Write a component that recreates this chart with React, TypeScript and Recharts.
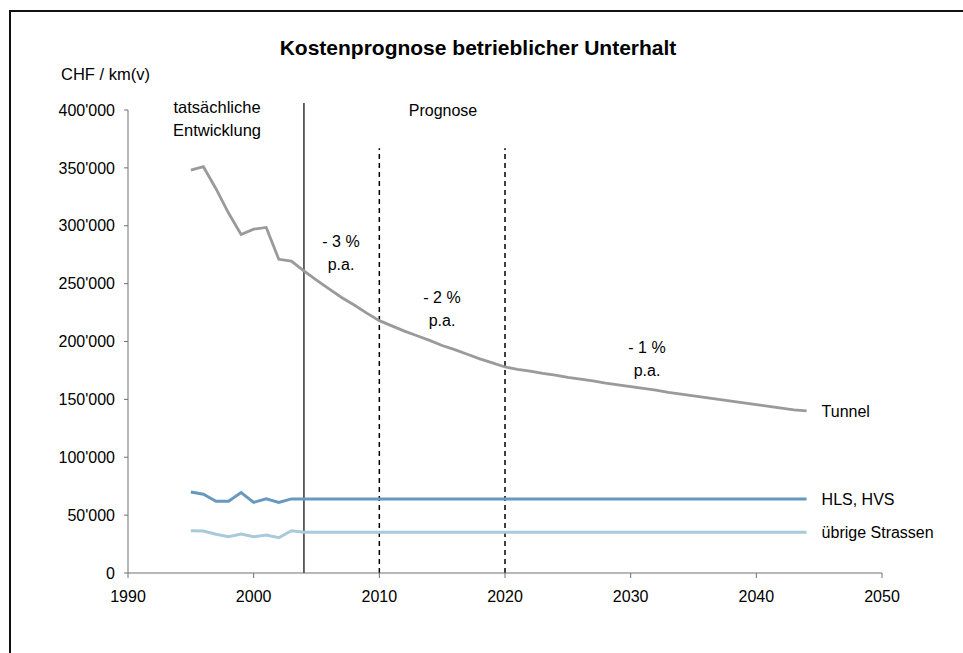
import React from 'react';
import { LineChart, Line, XAxis, YAxis, ReferenceLine, LabelList } from 'recharts';

const years = [
  1995, 1996, 1997, 1998, 1999, 2000, 2001, 2002, 2003, 2004,
  2005, 2006, 2007, 2008, 2009, 2010, 2011, 2012, 2013, 2014,
  2015, 2016, 2017, 2018, 2019, 2020, 2021, 2022, 2023, 2024,
  2025, 2026, 2027, 2028, 2029, 2030, 2031, 2032, 2033, 2034,
  2035, 2036, 2037, 2038, 2039, 2040, 2041, 2042, 2043, 2044,
];

const tunnel = [
  348000, 351000, 332000, 311000, 292500, 297000, 298500, 271000, 269500, 261000,
  253000, 245500, 238000, 231500, 224500, 218000, 213500, 209000, 205000, 201000,
  196500, 193000, 189000, 185000, 181500, 178000, 176000, 174500, 172500, 171000,
  169000, 167500, 166000, 164000, 162500, 161000, 159500, 158000, 156000, 154500,
  153000, 151500, 150000, 148500, 147000, 145500, 144000, 142500, 141000, 140000,
];

const hlsHvs = [
  70000, 68000, 62000, 62000, 69500, 61000, 64000, 61000, 64000, 64000,
  64000, 64000, 64000, 64000, 64000, 64000, 64000, 64000, 64000, 64000,
  64000, 64000, 64000, 64000, 64000, 64000, 64000, 64000, 64000, 64000,
  64000, 64000, 64000, 64000, 64000, 64000, 64000, 64000, 64000, 64000,
  64000, 64000, 64000, 64000, 64000, 64000, 64000, 64000, 64000, 64000,
];

const uebrige = [
  36500, 36300, 33500, 31300, 33700, 31300, 32800, 30500, 36500, 35300,
  35300, 35300, 35300, 35300, 35300, 35300, 35300, 35300, 35300, 35300,
  35300, 35300, 35300, 35300, 35300, 35300, 35300, 35300, 35300, 35300,
  35300, 35300, 35300, 35300, 35300, 35300, 35300, 35300, 35300, 35300,
  35300, 35300, 35300, 35300, 35300, 35300, 35300, 35300, 35300, 35300,
];

const xTicks = [1990, 2000, 2010, 2020, 2030, 2040, 2050];
const yTicks = [0, 50000, 100000, 150000, 200000, 250000, 300000, 350000, 400000];

// Phase boundaries
const actualEnd = 2004;
const phaseBreaks = [2010, 2020];

const data = years.map((year, i) => ({
  year,
  tunnel: tunnel[i],
  hls: hlsHvs[i],
  uebrige: uebrige[i],
}));

const FONT = '"Liberation Sans", Arial, sans-serif';

const fmt = (v: number) => {
  if (v === 0) return '0';
  const k = Math.floor(v / 1000);
  return `${k}'000`;
};

const endLabel = (text: string) => (props: any) => {
  const { x, y, index } = props;
  if (index !== data.length - 1) return null;
  return (
    <text x={x + 15} y={y} dy="0.35em" fontSize={16} fill="#000" fontFamily={FONT}>
      {text}
    </text>
  );
};

const Note: React.FC<{ x: number; y: number; children: React.ReactNode }> = ({ x, y, children }) => (
  <div
    style={{
      position: 'absolute',
      left: x,
      top: y,
      transform: 'translate(-50%, -50%)',
      fontSize: 16,
      lineHeight: '23px',
      textAlign: 'center',
      whiteSpace: 'nowrap',
    }}
  >
    {children}
  </div>
);

export default function App() {
  return (
    <div
      style={{
        position: 'absolute',
        left: 0,
        top: 0,
        width: 963,
        height: 653,
        overflow: 'hidden',
        fontFamily: FONT,
        background: '#fff',
      }}
    >
      <div
        style={{
          position: 'absolute',
          left: 9,
          top: 10,
          width: 960,
          height: 650,
          borderLeft: '2.5px solid #111',
          borderTop: '2.5px solid #111',
        }}
      />
      <div
        style={{
          position: 'absolute',
          left: 478,
          top: 48,
          transform: 'translate(-50%, -50%)',
          fontSize: 21,
          fontWeight: 'bold',
          whiteSpace: 'nowrap',
        }}
      >
        Kostenprognose betrieblicher Unterhalt
      </div>
      <div style={{ position: 'absolute', left: 61, top: 65, fontSize: 16.5 }}>CHF / km(v)</div>

      <LineChart
        width={963}
        height={653}
        data={data}
        margin={{ top: 110, right: 81, bottom: 50, left: 68 }}
        style={{ position: 'absolute', left: 0, top: 0 }}
      >
        <XAxis
          dataKey="year"
          type="number"
          domain={[1990, 2050]}
          ticks={xTicks}
          height={30}
          tickSize={5}
          tickMargin={13}
          stroke="#707070"
          tick={{ fill: '#000', fontSize: 16, fontFamily: FONT }}
          interval={0}
        />
        <YAxis
          domain={[0, 400000]}
          ticks={yTicks}
          width={60}
          tickSize={4}
          tickMargin={9}
          stroke="#707070"
          tickFormatter={fmt}
          tick={{ fill: '#000', fontSize: 16, fontFamily: FONT }}
          interval={0}
        />
        <ReferenceLine
          segment={[{ x: actualEnd, y: 0 }, { x: actualEnd, y: 406000 }]}
          stroke="#333"
          strokeWidth={1.5}
          ifOverflow="visible"
        />
        {phaseBreaks.map((b) => (
          <ReferenceLine
            key={b}
            segment={[{ x: b, y: 0 }, { x: b, y: 367000 }]}
            stroke="#000"
            strokeWidth={1.5}
            strokeDasharray="5 4"
            ifOverflow="visible"
          />
        ))}
        <Line
          dataKey="uebrige"
          stroke="#a8cbdb"
          strokeWidth={3}
          dot={false}
          isAnimationActive={false}
        >
          <LabelList dataKey="uebrige" content={endLabel('übrige Strassen')} />
        </Line>
        <Line
          dataKey="hls"
          stroke="#6898bd"
          strokeWidth={3}
          dot={false}
          isAnimationActive={false}
        >
          <LabelList dataKey="hls" content={endLabel('HLS, HVS')} />
        </Line>
        <Line
          dataKey="tunnel"
          stroke="#9a9a9a"
          strokeWidth={2.8}
          dot={false}
          isAnimationActive={false}
        >
          <LabelList dataKey="tunnel" content={endLabel('Tunnel')} />
        </Line>
      </LineChart>

      <Note x={217} y={119}>
        <span style={{ fontSize: 16.5 }}>
          tatsächliche
          <br />
          Entwicklung
        </span>
      </Note>
      <Note x={443} y={110}>Prognose</Note>
      <Note x={341} y={253}>
        - 3 %
        <br />
        p.a.
      </Note>
      <Note x={442} y={309}>
        - 2 %
        <br />
        p.a.
      </Note>
      <Note x={647} y={359}>
        - 1 %
        <br />
        p.a.
      </Note>
    </div>
  );
}
